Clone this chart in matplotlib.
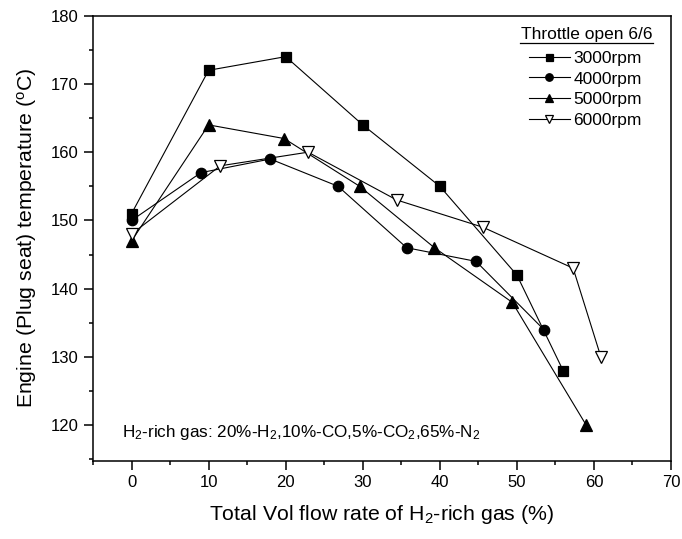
import matplotlib.pyplot as plt
from matplotlib.lines import Line2D

plt.rcParams['font.family'] = ['Liberation Sans', 'DejaVu Sans']
plt.rcParams['mathtext.default'] = 'regular'

# flow rate (%) and plug seat temperature (C) for each engine speed
x_3000 = [0, 10, 20, 30, 40, 50, 56]
t_3000 = [151, 172, 174, 164, 155, 142, 128]
x_4000 = [0, 9, 18, 26.8, 35.7, 44.7, 53.5]
t_4000 = [150, 157, 159, 155, 146, 144, 134]
x_5000 = [0, 10, 19.8, 29.6, 39.3, 49.4, 59]
t_5000 = [147, 164, 162, 155, 146, 138, 120]
x_6000 = [0, 11.5, 22.9, 34.4, 45.6, 57.3, 60.9]
t_6000 = [148, 158, 160, 153, 149, 143, 130]

series = [
    (x_3000, t_3000, 's', 7.0, 'k', '3000rpm'),
    (x_4000, t_4000, 'o', 7.5, 'k', '4000rpm'),
    (x_5000, t_5000, '^', 8.0, 'k', '5000rpm'),
    (x_6000, t_6000, 'v', 8.0, 'white', '6000rpm'),
]

fig = plt.figure(figsize=(6.82, 5.39), dpi=100)
ax = fig.add_axes([0.1364, 0.1453, 0.8475, 0.8256])

for xs, ts, m, ms, fc, lab in series:
    ax.plot(xs, ts, color='k', lw=0.8, marker=m, markersize=ms,
            markerfacecolor=fc, markeredgecolor='k', markeredgewidth=0.9,
            label=lab)

ax.set_xlim(-5, 70)
ax.set_ylim(114.8, 180)
ax.set_xticks(range(0, 71, 10))
ax.set_xticks(range(-5, 71, 5), minor=True)
ax.set_yticks(range(120, 181, 10))
ax.set_yticks(range(115, 181, 5), minor=True)
ax.tick_params(which='major', direction='out', length=6.5, width=1.1,
               labelsize=12, pad=4)
ax.tick_params(which='minor', direction='out', length=3, width=1.1)
for sp in ax.spines.values():
    sp.set_linewidth(1.1)

ax.set_xlabel('Total Vol flow rate of H$_2$-rich gas (%)', fontsize=15.3,
              labelpad=9)
ax.set_ylabel('Engine (Plug seat) temperature ($^o$C)', fontsize=15.3,
              labelpad=8)

ax.text(-1.3, 118.25, 'H$_2$-rich gas: 20%-H$_2$,10%-CO,5%-CO$_2$,65%-N$_2$',
        fontsize=12.3, va='baseline', ha='left')

# legend with an underlined heading
ax.text(0.968, 0.9566, 'Throttle open 6/6', transform=ax.transAxes,
        ha='right', va='center', fontsize=12.5)
ax.add_line(Line2D([0.739, 0.968], [0.9393, 0.9393], transform=ax.transAxes,
                   color='k', lw=0.9))
ax.legend(loc='upper left', bbox_to_anchor=(0.754, 0.921), frameon=False,
          fontsize=12.5, handlelength=2.36, handletextpad=0.2,
          labelspacing=0.31, borderpad=0, borderaxespad=0, markerscale=0.72)

fig.savefig('out.png', dpi=100)
